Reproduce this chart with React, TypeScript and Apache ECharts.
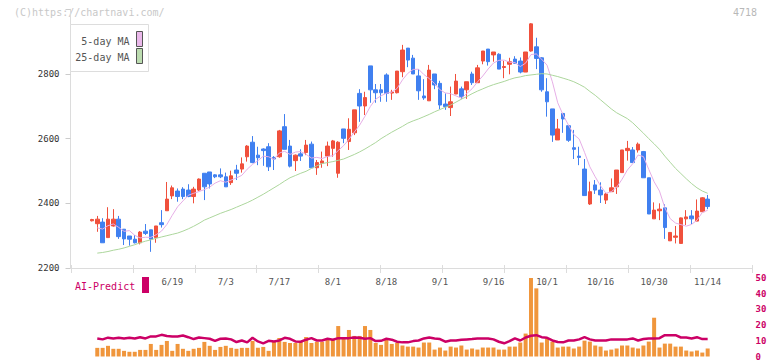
import React, { useEffect, useRef } from "react";
import * as echarts from "echarts";

const DATES = [
  "5/29","5/30","6/2","6/3","6/4","6/5","6/6","6/9","6/10","6/11","6/12","6/13","6/16","6/17","6/18","6/19","6/20",
  "6/23","6/24","6/25","6/26","6/27","6/30","7/1","7/2","7/3","7/4","7/7","7/8","7/9","7/10","7/11","7/14","7/15",
  "7/16","7/17","7/18","7/22","7/23","7/24","7/25","7/28","7/29","7/30","7/31","8/1","8/4","8/5","8/6","8/7","8/8",
  "8/12","8/13","8/14","8/15","8/18","8/19","8/20","8/21","8/22","8/25","8/26","8/27","8/28","8/29","9/1","9/2",
  "9/3","9/4","9/5","9/8","9/9","9/10","9/11","9/12","9/16","9/17","9/18","9/19","9/22","9/24","9/25","9/26","9/29",
  "9/30","10/1","10/2","10/3","10/6","10/7","10/8","10/9","10/10","10/14","10/15","10/16","10/17","10/20","10/21",
  "10/22","10/23","10/24","10/27","10/28","10/29","10/30","10/31","11/4","11/5","11/6","11/7","11/10","11/11",
  "11/12","11/13","11/14",
];

const X_LABELS = ["6/19","7/3","7/17","8/1","8/18","9/1","9/16","10/1","10/16","10/30","11/14"];

const OPEN = [
  2346,2337,2342,2294,2330,2351,2320,2299,2289,2278,
  2314,2318,2294,2340,2377,2423,2438,2444,2441,2421,
  2441,2493,2497,2488,2488,2482,2464,2503,2506,2544,
  2589,2549,2568,2575,2542,2544,2637,2577,2532,2553,
  2557,2583,2510,2524,2546,2570,2493,2630,2591,2618,
  2740,2701,2825,2751,2751,2797,2741,2742,2807,2880,
  2849,2794,2732,2717,2800,2771,2707,2696,2738,2754,
  2751,2800,2773,2840,2877,2859,2861,2820,2830,2846,
  2840,2806,2871,2884,2850,2745,2692,2596,2678,2640,
  2572,2546,2506,2398,2457,2441,2410,2436,2451,2495,
  2563,2565,2565,2560,2479,2352,2377,2386,2284,2295,
  2276,2352,2361,2345,2374,2413,
];
const CLOSE = [
  2350,2351,2278,2351,2351,2297,2290,2289,2278,2311,
  2307,2289,2330,2334,2413,2448,2421,2421,2421,2444,
  2475,2451,2460,2482,2482,2451,2485,2493,2522,2577,
  2526,2541,2563,2513,2537,2624,2567,2515,2549,2546,
  2580,2510,2526,2531,2577,2593,2589,2601,2629,2689,
  2701,2727,2751,2742,2742,2740,2744,2809,2874,2843,
  2800,2748,2726,2812,2766,2704,2699,2714,2778,2730,
  2776,2773,2819,2871,2838,2868,2815,2823,2838,2833,
  2806,2868,2955,2848,2751,2714,2611,2630,2661,2595,
  2567,2542,2424,2436,2441,2426,2429,2448,2503,2565,
  2570,2526,2583,2479,2367,2379,2382,2325,2310,2299,
  2355,2358,2352,2376,2417,2390,
];
const LOW = [
  2344,2312,2278,2294,2328,2290,2271,2269,2276,2273,
  2302,2250,2278,2325,2377,2413,2405,2413,2419,2400,
  2438,2410,2446,2478,2478,2451,2457,2472,2495,2529,
  2524,2518,2516,2500,2503,2541,2567,2511,2500,2531,
  2549,2510,2488,2510,2515,2544,2479,2586,2565,2611,
  2652,2673,2711,2711,2714,2714,2720,2740,2790,2821,
  2800,2720,2720,2717,2753,2691,2689,2670,2738,2722,
  2723,2766,2773,2830,2826,2838,2815,2787,2799,2833,
  2802,2806,2869,2815,2745,2668,2590,2596,2618,2590,
  2537,2518,2424,2395,2429,2401,2398,2436,2429,2495,
  2532,2526,2557,2479,2367,2352,2348,2290,2284,2276,
  2276,2333,2336,2345,2374,2382,
];
const HIGH = [
  2352,2361,2354,2388,2382,2361,2320,2299,2302,2314,
  2336,2318,2330,2379,2466,2455,2446,2450,2459,2451,
  2477,2493,2497,2490,2508,2495,2501,2519,2542,2580,
  2608,2575,2570,2586,2546,2627,2676,2596,2551,2567,
  2596,2591,2534,2560,2591,2596,2592,2630,2663,2689,
  2753,2745,2825,2769,2769,2802,2751,2809,2890,2880,
  2859,2815,2784,2828,2800,2779,2740,2761,2800,2761,
  2776,2807,2828,2871,2877,2868,2864,2841,2850,2855,
  2851,2868,2957,2912,2852,2787,2692,2661,2678,2640,
  2627,2575,2537,2467,2472,2465,2432,2477,2503,2565,
  2593,2574,2588,2562,2479,2403,2400,2397,2310,2330,
  2356,2379,2379,2412,2419,2426,
];

// closes of the three sessions before the first visible one (for the 5-day MA)
const PRE_CLOSES = [2295, 2300, 2324];

const MA25 = [
  null,2246,2248,2251,2255,2258,2262,2267,2272,2278,
  2283,2287,2292,2296,2300,2304,2308,2314,2321,2329,
  2338,2348,2355,2362,2369,2375,2381,2388,2395,2402,
  2410,2419,2428,2438,2448,2458,2469,2479,2486,2493,
  2499,2508,2516,2523,2526,2529,2533,2537,2544,2551,
  2559,2568,2578,2588,2600,2610,2620,2629,2638,2648,
  2655,2661,2668,2675,2683,2690,2697,2704,2713,2722,
  2730,2739,2747,2754,2761,2767,2772,2777,2783,2788,
  2791,2795,2797,2799,2801,2800,2796,2792,2787,2782,
  2776,2768,2759,2746,2734,2720,2706,2692,2680,2671,
  2662,2649,2633,2617,2600,2584,2567,2546,2527,2508,
  2492,2476,2461,2448,2438,2431,
];

const VOLUME = [
  null,5.5,5.5,6.8,4.9,4.9,3.6,3.0,3.0,4.2,
  4.2,8.0,4.2,7.4,9.9,3.6,8.0,4.9,3.6,4.9,
  5.5,9.3,6.8,4.2,6.1,6.8,5.5,4.9,5.5,5.5,
  9.9,5.5,6.1,3.6,9.3,11.8,9.3,8.6,8.6,9.3,
  12.4,8.6,9.3,9.3,11.2,11.2,19.4,11.2,16.9,13.1,
  13.1,19.4,16.9,8.6,7.4,10.5,8.0,8.6,7.0,6.3,
  6.3,5.7,8.9,8.9,4.4,5.7,3.8,6.3,5.7,7.0,
  4.4,5.1,4.4,5.7,5.7,5.7,4.4,4.4,6.3,6.3,
  8.9,14.6,50,43.4,8.9,11.4,9.5,5.7,6.3,6.3,
  5.1,6.3,10.1,9.5,7.0,6.3,3.8,4.4,5.1,7.0,
  7.0,5.7,5.1,7.0,9.5,24.7,5.7,8.2,8.2,6.3,
  6.3,3.8,3.2,3.8,2.5,5.1,
];

const PREDICT = [
  null,11.5,10.9,12.0,11.5,11.9,11.5,11.9,11.5,12.3,
  11.5,12.8,12.8,13.8,13.0,12.8,12.8,13.4,12.3,11.1,
  12.1,11.7,11.3,10.0,11.3,11.5,10.9,9.2,10.2,9.0,
  11.9,9.6,8.4,10.0,9.6,10.2,11.9,11.3,9.6,9.4,
  10.7,11.7,10.2,10.2,11.3,10.7,11.7,11.7,11.7,12.1,
  11.9,11.3,11.7,9.8,10.0,11.3,10.7,9.4,9.0,9.0,
  9.8,10.2,11.5,12.1,11.5,11.1,9.4,10.2,10.2,10.7,
  10.9,11.1,11.5,11.5,11.5,10.9,9.4,8.4,9.8,11.5,
  10.2,12.1,13.2,13.6,12.3,11.9,10.2,9.2,9.0,10.2,
  10.2,10.9,12.3,10.9,10.2,10.2,10.2,10.9,10.9,10.9,
  10.9,11.5,10.2,11.1,11.5,11.5,11.7,13.6,13.6,13.6,
  12.1,12.1,11.5,12.3,11.1,11.1,
];

const LEAD = 4;
const TRAIL = 8;
const MONO = '"DejaVu Sans Mono", "Liberation Mono", monospace';

function pad(arr: any[]): any[] {
  return [
    ...new Array(LEAD).fill("-"),
    ...arr.map((v) => (v == null ? "-" : v)),
    ...new Array(TRAIL).fill("-"),
  ];
}

export default function App() {
  const ref = useRef<HTMLDivElement>(null);

  useEffect(() => {
    if (!ref.current) return;
    const chart = echarts.init(ref.current, undefined, { renderer: "svg" });

    const cats = [...new Array(LEAD).fill(""), ...DATES, ...new Array(TRAIL).fill("")];
    const candles = [
      ...new Array(LEAD).fill(["-", "-", "-", "-"]),
      ...DATES.map((_, i) => [OPEN[i], CLOSE[i], LOW[i], HIGH[i]]),
      ...new Array(TRAIL).fill(["-", "-", "-", "-"]),
    ];
    const allCloses = [...PRE_CLOSES, ...CLOSE];
    const ma5 = CLOSE.map((_, k) => {
      if (k < 1) return null;
      const w = allCloses.slice(k - 1, k + 4);
      return Math.round((w.reduce((a, b) => a + b, 0) / 5) * 10) / 10;
    });

    const gridMain = { left: 70.5, width: 680, top: 9.3, height: 258.7 };
    const gridAxis = { left: 71, width: 681, top: 9.3, height: 258.7 };

    chart.setOption({
      animation: false,
      backgroundColor: "#ffffff",
      grid: [
        { ...gridMain },
        { left: 70.5, width: 680, top: 278, height: 79.5 },
        { ...gridAxis },
        { ...gridAxis },
      ],
      xAxis: [
        {
          gridIndex: 0,
          type: "category",
          data: cats,
          boundaryGap: false,
          axisLine: { show: false },
          axisTick: { show: false },
          splitLine: { show: false },
          axisLabel: {
            interval: (_i: number, v: string) => X_LABELS.includes(v),
            margin: 9,
            fontSize: 9,
            fontFamily: MONO,
            color: "#555",
          },
        },
        {
          gridIndex: 1,
          type: "category",
          data: cats,
          boundaryGap: false,
          show: false,
        },
        {
          gridIndex: 2,
          type: "value",
          min: 0,
          max: 11,
          interval: 1,
          axisLine: { show: true, lineStyle: { color: "#dcdcdc", width: 1 } },
          axisTick: { show: true, inside: true, length: 3, lineStyle: { color: "#dcdcdc" } },
          axisLabel: { show: false },
          splitLine: { show: false },
        },
        {
          gridIndex: 3,
          type: "value",
          min: 0,
          max: 11,
          interval: 1,
          axisLine: { show: false },
          axisTick: { show: true, inside: false, length: 5, lineStyle: { color: "#dcdcdc" } },
          axisLabel: { show: false },
          splitLine: { show: false },
        },
      ],
      yAxis: [
        {
          gridIndex: 0,
          type: "value",
          min: 2200,
          max: 3000,
          interval: 200,
          position: "left",
          axisLine: { show: true, lineStyle: { color: "#dcdcdc" } },
          axisTick: { show: true, length: 5, lineStyle: { color: "#cccccc" } },
          splitLine: { show: false },
          axisLabel: {
            formatter: (v: number) => (v === 3000 ? "" : String(v)),
            fontSize: 9,
            fontFamily: MONO,
            color: "#333",
            margin: 11,
          },
        },
        {
          gridIndex: 1,
          type: "value",
          min: 0,
          max: 50,
          interval: 10,
          position: "right",
          axisLine: { show: false },
          axisTick: { show: false },
          splitLine: { show: false },
          axisLabel: {
            fontSize: 9,
            fontFamily: MONO,
            fontWeight: "bold",
            color: "#cc0066",
            margin: 5,
          },
        },
        { gridIndex: 2, type: "value", min: 0, max: 1, show: false },
        { gridIndex: 3, type: "value", min: 0, max: 1, show: false },
      ],
      series: [
        {
          type: "candlestick",
          xAxisIndex: 0,
          yAxisIndex: 0,
          data: candles,
          barWidth: 4,
          itemStyle: {
            color: "#f0503c",
            color0: "#4080f0",
            borderColor: "#f0503c",
            borderColor0: "#4080f0",
            borderWidth: 1,
          },
        },
        {
          type: "line",
          xAxisIndex: 0,
          yAxisIndex: 0,
          data: pad(ma5),
          showSymbol: false,
          symbol: "none",
          lineStyle: { color: "#e6aee6", width: 1 },
        },
        {
          type: "line",
          xAxisIndex: 0,
          yAxisIndex: 0,
          data: pad(MA25),
          showSymbol: false,
          symbol: "none",
          lineStyle: { color: "#acd69c", width: 1 },
        },
        {
          type: "bar",
          xAxisIndex: 1,
          yAxisIndex: 1,
          data: pad(VOLUME),
          barWidth: 4,
          itemStyle: { color: "#f0963c" },
        },
        {
          type: "line",
          xAxisIndex: 1,
          yAxisIndex: 1,
          data: pad(PREDICT),
          showSymbol: false,
          symbol: "none",
          lineStyle: { color: "#cc0066", width: 2.5 },
        },
      ],
      graphic: [
        {
          type: "text",
          left: 14,
          top: 7,
          style: { text: "(C)https://chartnavi.com/", fill: "#c8c8c8", font: `10px ${MONO}` },
        },
        {
          type: "text",
          right: 15,
          top: 7,
          style: { text: "4718", fill: "#b8b8b8", font: `10px ${MONO}` },
        },
        {
          type: "rect",
          shape: { x: 70.5, y: 24.5, width: 78, height: 47 },
          style: { fill: "#ffffff", stroke: "#dddddd", lineWidth: 1 },
          z: 10,
        },
        {
          type: "text",
          x: 129.5,
          y: 41.5,
          style: {
            text: "5-day MA",
            fill: "#555",
            font: `10px ${MONO}`,
            textAlign: "right",
            textVerticalAlign: "middle",
          },
          z: 11,
        },
        {
          type: "text",
          x: 129.5,
          y: 57.5,
          style: {
            text: "25-day MA",
            fill: "#555",
            font: `10px ${MONO}`,
            textAlign: "right",
            textVerticalAlign: "middle",
          },
          z: 11,
        },
        {
          type: "rect",
          shape: { x: 136.5, y: 31.5, width: 6, height: 15 },
          style: { fill: "#eab8ea", stroke: "#555", lineWidth: 1 },
          z: 11,
        },
        {
          type: "rect",
          shape: { x: 136.5, y: 48.5, width: 6, height: 15 },
          style: { fill: "#bcdcb0", stroke: "#555", lineWidth: 1 },
          z: 11,
        },
        {
          type: "text",
          x: 75,
          y: 286,
          style: {
            text: "AI-Predict",
            fill: "#cc0066",
            font: `10px ${MONO}`,
            textVerticalAlign: "middle",
          },
        },
        {
          type: "rect",
          shape: { x: 142, y: 277, width: 7, height: 16 },
          style: { fill: "#cc0066" },
        },
      ],
    });

    return () => chart.dispose();
  }, []);

  return (
    <div
      ref={ref}
      style={{ position: "absolute", left: 0, top: 0, width: 772, height: 361, background: "#fff" }}
    />
  );
}
